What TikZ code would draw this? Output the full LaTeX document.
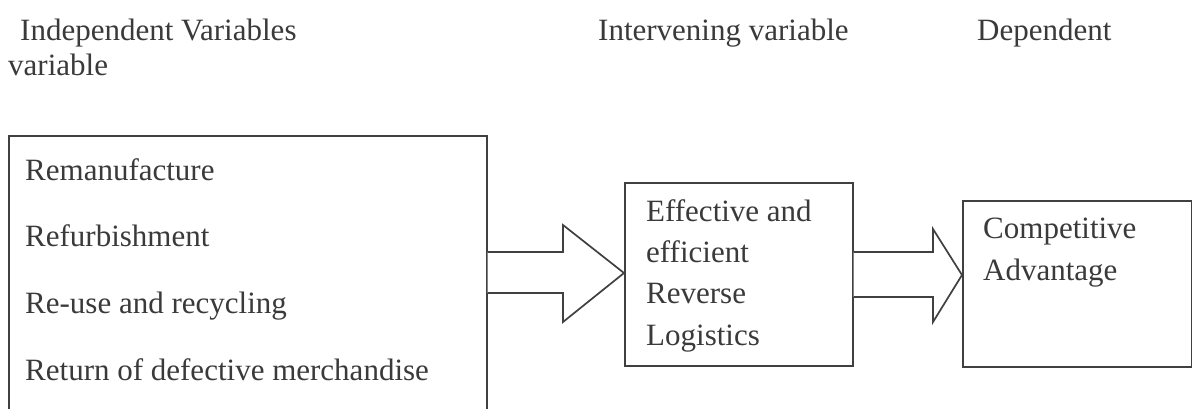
\documentclass[tikz,border=0pt]{standalone}
\usepackage{fontspec}
\setmainfont{Liberation Serif}
\definecolor{ink}{HTML}{3A3A3A}
\definecolor{edge}{HTML}{404040}
\begin{document}
\begin{tikzpicture}[x=1pt,y=-1pt,
  lbl/.style={anchor=base west,inner sep=0pt,text=ink,font=\fontsize{31}{36}\selectfont},
  box/.style={draw=edge,line width=1.7pt,anchor=north west,inner sep=0pt},
  bigarrow/.style={draw=edge,line width=1.7pt,line join=miter,fill=white}]
\useasboundingbox[fill=white] (0,0) rectangle (1192,408);
% headings
\node[lbl] (h1) at (20,40) {Independent Variables};
\node[lbl] (h1b) at (8,75) {variable};
\node[lbl] (h2) at (598,40) {Intervening variable};
\node[lbl] (h3) at (977,40) {Dependent};
% boxes
\node[box,minimum width=478pt,minimum height=285pt] (iv) at (8,135) {};
\node[box,minimum width=228pt,minimum height=183pt] (mid) at (624,182) {};
\node[box,minimum width=229pt,minimum height=166pt] (dv) at (962,200) {};
% left box items
\node[lbl] (i1) at (25,180) {Remanufacture};
\node[lbl] (i2) at (25,246) {Refurbishment};
\node[lbl] (i3) at (25,313) {Re-use and recycling};
\node[lbl] (i4) at (25,380) {Return of defective merchandise};
% middle box text
\node[lbl] (m1) at (646,221) {Effective and};
\node[lbl] (m2) at (646,262) {efficient};
\node[lbl] (m3) at (646,303) {Reverse};
\node[lbl] (m4) at (646,345) {Logistics};
% right box text
\node[lbl] (d1) at (983,238) {Competitive};
\node[lbl] (d2) at (983,280) {Advantage};
% block arrows
\draw[bigarrow] (iv.east |- 0,252) -- (563,252) -- (563,225) -- (mid.west |- 0,273)
  -- (563,322) -- (563,293) -- (iv.east |- 0,293);
\draw[bigarrow] (mid.east |- 0,252) -- (933,252) -- (933,229) -- (dv.west |- 0,275)
  -- (933,322) -- (933,297) -- (mid.east |- 0,297);
\end{tikzpicture}
\end{document}
